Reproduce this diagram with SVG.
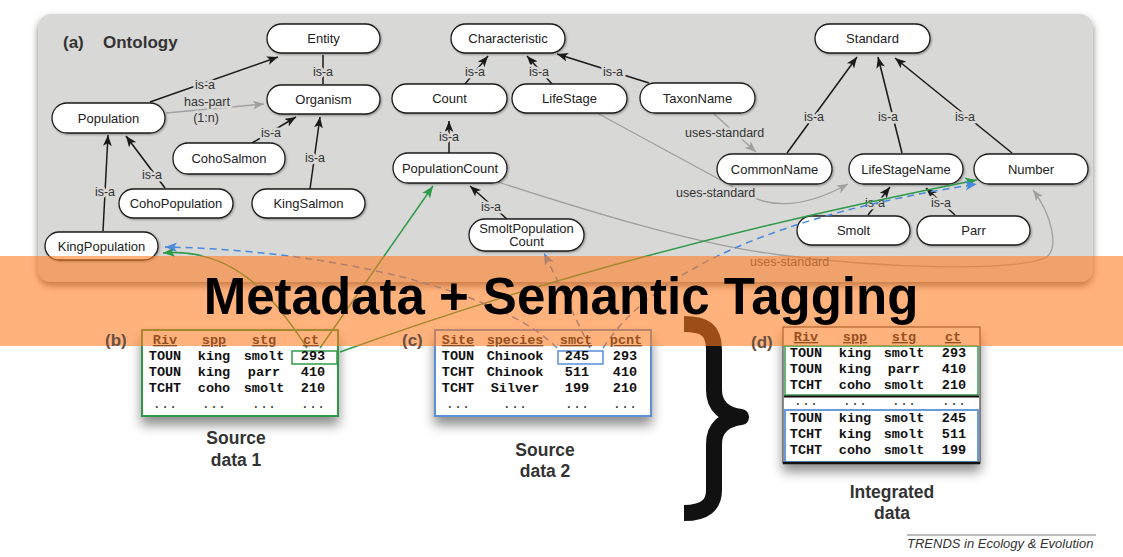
<svg xmlns="http://www.w3.org/2000/svg" width="1123" height="557" viewBox="0 0 1123 557">
<defs>
<filter id="ps" x="-5%" y="-10%" width="110%" height="125%"><feDropShadow dx="0" dy="4" stdDeviation="3.5" flood-color="#000" flood-opacity="0.5"/></filter>
<filter id="ns" x="-10%" y="-20%" width="120%" height="150%"><feDropShadow dx="1" dy="1" stdDeviation="0.8" flood-color="#000" flood-opacity="0.35"/></filter>
<filter id="ts" x="-15%" y="-15%" width="130%" height="150%"><feDropShadow dx="0" dy="8" stdDeviation="6" flood-color="#000" flood-opacity="0.45"/></filter>
<marker id="ab" viewBox="0 0 10 8" markerUnits="userSpaceOnUse" markerWidth="11" markerHeight="9" refX="10" refY="4" orient="auto"><path d="M0,0 L10,4 L0,8 L2.5,4 z" fill="#1a1a1a"/></marker>
<marker id="ag" viewBox="0 0 10 8" markerUnits="userSpaceOnUse" markerWidth="11" markerHeight="9" refX="10" refY="4" orient="auto"><path d="M0,0 L10,4 L0,8 L2.5,4 z" fill="#a0a0a0"/></marker>
<marker id="agr" viewBox="0 0 10 8" markerUnits="userSpaceOnUse" markerWidth="12" markerHeight="10" refX="10" refY="4" orient="auto"><path d="M0,0 L10,4 L0,8 L2.5,4 z" fill="#2f9a49"/></marker>
<marker id="abl" viewBox="0 0 10 8" markerUnits="userSpaceOnUse" markerWidth="12" markerHeight="10" refX="10" refY="4" orient="auto"><path d="M0,0 L10,4 L0,8 L2.5,4 z" fill="#4a89dc"/></marker>
<style>
.node rect{fill:#fff;stroke:#1e1e1e;stroke-width:1.3;filter:url(#ns)}
.nt{font-family:"Liberation Sans",Arial,sans-serif;font-size:13px;fill:#222;text-anchor:middle}
.lbl{font-family:"Liberation Sans",Arial,sans-serif;font-size:12.5px;fill:#333;text-anchor:middle;paint-order:stroke;stroke:#d8d8d6;stroke-width:5px;stroke-linejoin:round}
.lbls{font-family:"Liberation Sans",Arial,sans-serif;font-size:12.5px;fill:#333;text-anchor:start;paint-order:stroke;stroke:#d8d8d6;stroke-width:5px;stroke-linejoin:round}
.e{stroke:#1a1a1a;stroke-width:1.5;fill:none;marker-end:url(#ab)}
.g{stroke:#a0a0a0;stroke-width:1.3;fill:none;marker-end:url(#ag)}
.grn{stroke:#2f9a49;stroke-width:1.5;fill:none;marker-end:url(#agr)}
.blu{stroke:#4a89dc;stroke-width:1.5;stroke-dasharray:7 5;fill:none;marker-end:url(#abl)}
.mono{font-family:"Liberation Mono","Courier New",monospace;font-weight:bold;font-size:13.5px;fill:#111;text-anchor:middle}
.dots{font-family:"Liberation Mono","Courier New",monospace;font-size:13.5px;fill:#333;text-anchor:middle}
.hdr{font-family:"Liberation Mono","Courier New",monospace;font-weight:bold;font-size:13.5px;fill:#94501f;text-anchor:middle;text-decoration:underline}
.cap{font-family:"Liberation Sans",Arial,sans-serif;font-weight:bold;font-size:17.5px;fill:#333;text-anchor:middle}
.pl{font-family:"Liberation Sans",Arial,sans-serif;font-weight:bold;font-size:17px;fill:#6a5040}
</style>
</defs>

<rect x="0" y="0" width="1123" height="557" fill="#fff"/>

<!-- ontology panel -->
<rect id="panel" x="38" y="14" width="1055" height="268" rx="13" fill="#d8d8d6" filter="url(#ps)"/>
<text y="48" font-family="Liberation Sans, Arial, sans-serif" font-weight="bold" font-size="17" fill="#333"><tspan x="63">(a)</tspan><tspan x="103">Ontology</tspan></text>

<g id="connectors">
  <!-- is-a edges -->
  <path class="e" d="M150,102 L278,57"/>
  <path d="M323,84 L323,55" stroke="#1a1a1a" stroke-width="1.5"/>
  <path class="g" d="M166,113 L264,104"/>
  <path class="e" d="M252,143 L296,117"/>
  <path class="e" d="M310,189 L320,117"/>
  <path class="e" d="M103,231 L108,135"/>
  <path class="e" d="M165,188 L126,136"/>
  <path class="e" d="M465,84 L488,56"/>
  <path class="e" d="M552,84 L527,56"/>
  <path class="e" d="M649,83 L557,54"/>
  <path class="e" d="M449,153 L449,121"/>
  <path class="e" d="M508,220 L470,186"/>
  <path class="e" d="M787,153 L857,57"/>
  <path class="e" d="M902,153 L878,57"/>
  <path class="e" d="M1012,153 L895,58"/>
  <path class="e" d="M868,215 L890,187"/>
  <path class="e" d="M955,215 L926,188"/>
  <!-- uses-standard -->
  <path class="g" d="M713,113 L756,152"/>
  <path class="g" d="M597,113 L750,196 Q790,216 848,184"/>
  <path class="g" d="M498,182 C600,215 700,245 780,255 C880,268 1010,272 1045,258 C1060,250 1052,215 1033,190"/>

  <!-- edge labels -->
  <text class="lbl" x="205" y="89">is-a</text>
  <text class="lbl" x="323" y="76">is-a</text>
  <text class="lbl" x="207" y="106">has-part</text>
  <text class="lbl" x="206" y="122">(1:n)</text>
  <text class="lbl" x="271" y="137">is-a</text>
  <text class="lbl" x="315" y="162">is-a</text>
  <text class="lbl" x="105" y="196">is-a</text>
  <text class="lbl" x="152" y="179">is-a</text>
  <text class="lbl" x="475" y="76">is-a</text>
  <text class="lbl" x="539" y="76">is-a</text>
  <text class="lbl" x="613" y="76">is-a</text>
  <text class="lbl" x="449" y="141">is-a</text>
  <text class="lbl" x="491" y="211">is-a</text>
  <text class="lbl" x="814" y="121">is-a</text>
  <text class="lbl" x="888" y="121">is-a</text>
  <text class="lbl" x="965" y="121">is-a</text>
  <text class="lbl" x="875" y="207">is-a</text>
  <text class="lbl" x="941" y="207">is-a</text>
  <text class="lbls" x="685" y="137">uses-standard</text>
  <text class="lbls" x="676" y="197">uses-standard</text>
  <text x="750" y="266" font-family="Liberation Sans, Arial, sans-serif" font-size="12.5" fill="#555">uses-standard</text>
</g>

<g id="n-entity" class="node"><rect x="267" y="24" width="113" height="29" rx="14.5"/><text class="nt" x="323.5" y="43">Entity</text></g>
<g id="n-organism" class="node"><rect x="267" y="85" width="113" height="29" rx="14.5"/><text class="nt" x="323.5" y="104">Organism</text></g>
<g id="n-population" class="node"><rect x="52" y="103" width="113" height="30" rx="15"/><text class="nt" x="108.5" y="122.5">Population</text></g>
<g id="n-cohosalmon" class="node"><rect x="173" y="143" width="112" height="31" rx="15"/><text class="nt" x="229" y="163">CohoSalmon</text></g>
<g id="n-cohopopulation" class="node"><rect x="119" y="189" width="114" height="29" rx="14.5"/><text class="nt" x="176" y="208">CohoPopulation</text></g>
<g id="n-kingsalmon" class="node"><rect x="252" y="189" width="113" height="29" rx="14.5"/><text class="nt" x="308.5" y="208">KingSalmon</text></g>
<g id="n-kingpopulation" class="node"><rect x="45" y="232" width="113" height="28" rx="14"/><text class="nt" x="101.5" y="250.5">KingPopulation</text></g>
<g id="n-characteristic" class="node"><rect x="451" y="24" width="114" height="29" rx="14.5"/><text class="nt" x="508" y="43">Characteristic</text></g>
<g id="n-count" class="node"><rect x="392" y="84" width="115" height="29" rx="14.5"/><text class="nt" x="449.5" y="103">Count</text></g>
<g id="n-lifestage" class="node"><rect x="512" y="84" width="115" height="29" rx="14.5"/><text class="nt" x="569.5" y="103">LifeStage</text></g>
<g id="n-taxonname" class="node"><rect x="640" y="83" width="115" height="30" rx="15"/><text class="nt" x="697.5" y="102.5">TaxonName</text></g>
<g id="n-populationcount" class="node"><rect x="393" y="153" width="114" height="30" rx="15"/><text class="nt" x="450" y="172.5">PopulationCount</text></g>
<g id="n-smoltpopulationcount" class="node"><rect x="469" y="219" width="115" height="32" rx="16"/><text class="nt" x="526.5" y="233">SmoltPopulation</text><text class="nt" x="526.5" y="246">Count</text></g>
<g id="n-standard" class="node"><rect x="815" y="24" width="115" height="29" rx="14.5"/><text class="nt" x="872.5" y="43">Standard</text></g>
<g id="n-commonname" class="node"><rect x="717" y="154" width="115" height="30" rx="15"/><text class="nt" x="774.5" y="173.5">CommonName</text></g>
<g id="n-lifestagename" class="node"><rect x="849" y="154" width="114" height="30" rx="15"/><text class="nt" x="906" y="173.5">LifeStageName</text></g>
<g id="n-number" class="node"><rect x="974" y="154" width="114" height="30" rx="15"/><text class="nt" x="1031" y="173.5">Number</text></g>
<g id="n-smolt" class="node"><rect x="797" y="216" width="113" height="29" rx="14.5"/><text class="nt" x="853.5" y="235">Smolt</text></g>
<g id="n-parr" class="node"><rect x="917" y="216" width="113" height="29" rx="14.5"/><text class="nt" x="973.5" y="235">Parr</text></g>

<!-- tables -->
<g id="table-b">
  <rect x="142" y="330" width="196" height="86" fill="#fff" stroke="#2f9a49" stroke-width="2" filter="url(#ts)"/>
  <rect x="292" y="351" width="45" height="13" fill="none" stroke="#2f9a49" stroke-width="1.5"/>
  <text class="mono" y="360"><tspan x="165">TOUN</tspan><tspan x="214">king</tspan><tspan x="264">smolt</tspan><tspan x="313">293</tspan></text>
  <text class="mono" y="376"><tspan x="165">TOUN</tspan><tspan x="214">king</tspan><tspan x="264">parr</tspan><tspan x="313">410</tspan></text>
  <text class="mono" y="392"><tspan x="165">TCHT</tspan><tspan x="214">coho</tspan><tspan x="264">smolt</tspan><tspan x="313">210</tspan></text>
  <text class="dots" y="408"><tspan x="165">...</tspan><tspan x="214">...</tspan><tspan x="264">...</tspan><tspan x="313">...</tspan></text>
  <text class="cap" x="236" y="444">Source</text>
  <text class="cap" x="236" y="466">data 1</text>
</g>
<g id="table-c">
  <rect x="435" y="330" width="216" height="86" fill="#fff" stroke="#5b8fd6" stroke-width="2" filter="url(#ts)"/>
  <rect x="558" y="351" width="45" height="13" fill="none" stroke="#5b8fd6" stroke-width="1.5"/>
  <text class="mono" y="360"><tspan x="458">TOUN</tspan><tspan x="515">Chinook</tspan><tspan x="577">245</tspan><tspan x="625">293</tspan></text>
  <text class="mono" y="376"><tspan x="458">TCHT</tspan><tspan x="515">Chinook</tspan><tspan x="577">511</tspan><tspan x="625">410</tspan></text>
  <text class="mono" y="392"><tspan x="458">TCHT</tspan><tspan x="515">Silver</tspan><tspan x="577">199</tspan><tspan x="625">210</tspan></text>
  <text class="dots" y="408"><tspan x="458">...</tspan><tspan x="515">...</tspan><tspan x="577">...</tspan><tspan x="625">...</tspan></text>
  <text class="cap" x="545" y="456">Source</text>
  <text class="cap" x="545" y="477">data 2</text>
</g>
<g id="table-d">
  <rect x="783" y="327" width="197" height="136" fill="#fff" stroke="#444" stroke-width="1.2" filter="url(#ts)"/>
  <rect x="785" y="346" width="193" height="49" fill="none" stroke="#3a9a4a" stroke-width="1.5"/>
  <line x1="784" y1="396.5" x2="979" y2="396.5" stroke="#111" stroke-width="2"/>
  <rect x="785" y="410" width="193" height="52" fill="none" stroke="#6a9ad8" stroke-width="2"/>
  <line x1="783" y1="463" x2="980" y2="463" stroke="#111" stroke-width="2.5"/>
  <text class="mono" y="357"><tspan x="806">TOUN</tspan><tspan x="855">king</tspan><tspan x="904">smolt</tspan><tspan x="954">293</tspan></text>
  <text class="mono" y="373"><tspan x="806">TOUN</tspan><tspan x="855">king</tspan><tspan x="904">parr</tspan><tspan x="954">410</tspan></text>
  <text class="mono" y="389"><tspan x="806">TCHT</tspan><tspan x="855">coho</tspan><tspan x="904">smolt</tspan><tspan x="954">210</tspan></text>
  <text class="dots" y="405"><tspan x="806">...</tspan><tspan x="855">...</tspan><tspan x="904">...</tspan><tspan x="954">...</tspan></text>
  <text class="mono" y="422"><tspan x="806">TOUN</tspan><tspan x="855">king</tspan><tspan x="904">smolt</tspan><tspan x="954">245</tspan></text>
  <text class="mono" y="438"><tspan x="806">TCHT</tspan><tspan x="855">king</tspan><tspan x="904">smolt</tspan><tspan x="954">511</tspan></text>
  <text class="mono" y="454"><tspan x="806">TCHT</tspan><tspan x="855">coho</tspan><tspan x="904">smolt</tspan><tspan x="954">199</tspan></text>
  <text class="cap" x="892" y="498">Integrated</text>
  <text class="cap" x="892" y="519">data</text>
</g>

<!-- semantic tagging links -->
<g id="tag-links">
  <path class="grn" d="M307,348 C270,290 230,248 163,253"/>
  <path class="grn" d="M320,348 L433,186"/>
  <path class="grn" d="M340,352 Q620,250 977,180"/>
  <path class="blu" d="M557,348 C500,290 330,250 165,247"/>
  <path class="blu" d="M590,348 L544,253"/>
  <path class="blu" d="M603,348 Q680,230 977,184"/>
</g>

<!-- brace -->
<path id="brace" d="M684,324 C705,324 714,330 714,350 L714,390 C714,407 725,415 741,417 C725,419 714,427 714,444 L714,490 C714,505 705,513 684,513" fill="none" stroke="#111" stroke-width="16" stroke-linecap="butt" stroke-linejoin="round"/>

<!-- orange band -->
<rect id="band" x="0" y="256" width="1123" height="90" fill="#ff7a1e" fill-opacity="0.58"/>

<!-- on-top labels -->
<text class="hdr" y="344"><tspan x="165">Riv</tspan><tspan x="214">spp</tspan><tspan x="264">stg</tspan><tspan x="311">ct</tspan></text>
<text class="hdr" y="344"><tspan x="458">Site</tspan><tspan x="515">species</tspan><tspan x="576">smct</tspan><tspan x="626">pcnt</tspan></text>
<text class="hdr" y="341"><tspan x="806">Riv</tspan><tspan x="855">spp</tspan><tspan x="904">stg</tspan><tspan x="953">ct</tspan></text>
<text class="pl" x="105" y="346">(b)</text>
<text class="pl" x="402" y="346">(c)</text>
<text class="pl" x="751" y="348">(d)</text>

<text id="title" x="561" y="314" font-family="Liberation Sans, Arial, sans-serif" font-weight="bold" font-size="51" fill="#000" text-anchor="middle">Metadata + Semantic Tagging</text>

<line x1="907" y1="535" x2="1096" y2="535" stroke="#777" stroke-width="1"/>
<text x="907" y="548" font-family="Liberation Sans, Arial, sans-serif" font-style="italic" font-size="13" fill="#333">TRENDS in Ecology &amp; Evolution</text>
</svg>
